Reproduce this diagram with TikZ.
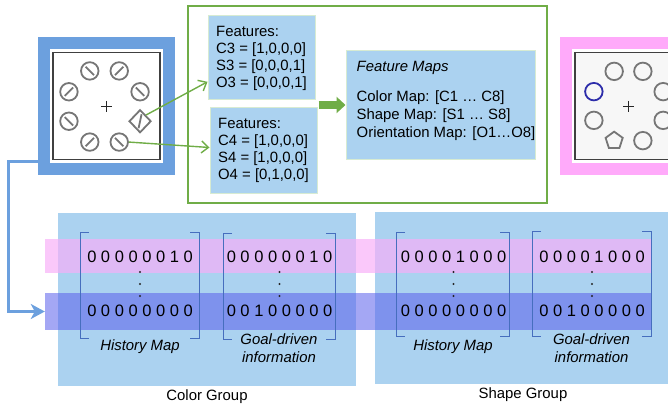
\documentclass[tikz,border=0pt]{standalone}
\usepackage{fontspec}
\setmainfont{Liberation Sans}
\usetikzlibrary{arrows.meta,positioning,shapes.geometric,calc}

\definecolor{frameblue}{RGB}{108,160,222}
\definecolor{framepink}{RGB}{255,170,250}
\definecolor{boxblue}{RGB}{171,210,240}
\definecolor{boxedge}{RGB}{215,235,210}
\definecolor{featgreen}{RGB}{112,173,71}
\definecolor{bandpink}{RGB}{248,174,248}
\definecolor{bandblue}{RGB}{90,95,235}
\definecolor{bracketblue}{RGB}{70,110,190}
\definecolor{itemgray}{RGB}{118,118,118}
\definecolor{itemblue}{RGB}{45,45,170}

\begin{document}
\begin{tikzpicture}[x=1pt, y=-1pt, >=Latex]
        \tikzset{panel/.style={draw, line width=12pt, fill=white, minimum size=125pt, inner sep=0pt},
                 screen/.style={draw=black!75, line width=1.8pt, minimum size=107pt, inner sep=0pt},
                 item/.style={circle, draw=itemgray, line width=1.8pt, minimum size=17.5pt, inner sep=0pt},
                 itemline/.style={draw=itemgray, line width=1.8pt},
                 fixcross/.style={draw=black!85, line width=1pt},
                 featbox/.style={fill=boxblue, draw=boxedge, line width=1pt, align=left, inner sep=0pt, font=\fontsize{14.9pt}{17pt}\selectfont},
                 maptext/.style={anchor=north west, align=left, inner sep=0pt, font=\fontsize{14.9pt}{18pt}\selectfont},
                 featarrow/.style={draw=featgreen, line width=1.4pt, -{Straight Barb[length=7pt, width=12pt]}},
                 groupbox/.style={fill=boxblue, inner sep=0pt},
                 grouplabel/.style={inner sep=3pt, font=\fontsize{14.9pt}{17pt}\selectfont},
                 band/.style={inner sep=0pt, minimum width=607pt},
                 bracket/.style={draw=bracketblue, line width=1pt},
                 bits/.style={inner sep=0pt, font=\fontsize{16.5pt}{12pt}\selectfont},
                 maplabel/.style={align=center, inner sep=0pt, font=\itshape\fontsize{14.9pt}{18pt}\selectfont}}
        \useasboundingbox (0,0) rectangle (668,406);
        \clip (0,0) rectangle (668,406);

        \node[groupbox, minimum width=298pt, minimum height=173pt, label={[grouplabel]below:Color Group}] (colorgrp) at (207,299.5) {};
        \node[groupbox, minimum width=296pt, minimum height=172pt, label={[grouplabel]below:Shape Group}] (shapegrp) at (523,298) {};
        \node[band, fill=bandpink, fill opacity=0.68, minimum height=34pt] (pinkband) at (348.5,256) {};
        \node[band, fill=bandblue, fill opacity=0.55, minimum height=37pt] (blueband) at (348.5,311.5) {};
        \foreach \l/\r/\t/\b in {80/199/232/338, 223/335/233/339, 396/509/232/336, 532/651/231/336}
            \draw[bracket] (\l+9,\t) -- (\l,\t) -- (\l,\b) -- (\l+9,\b) (\r-9,\t) -- (\r,\t) -- (\r,\b) -- (\r-9,\b);
        \foreach \x/\ra/\rb [count=\k] in {140/0 0 0 0 0 0 1 0/0 0 0 0 0 0 0 0, 279.5/0 0 0 0 0 0 1 0/0 0 1 0 0 0 0 0,
                                           453.5/0 0 0 0 1 0 0 0/0 0 0 0 0 0 0 0, 592/0 0 0 0 1 0 0 0/0 0 1 0 0 0 0 0} {
            \node[bits] (rowa\k) at (\x,257) {\ra};
            \node[bits] (rowb\k) at (\x,311) {\rb};
            \foreach \dy in {272,284,296}
                \fill[black!85] (\x,\dy) circle (1.1pt);
        }
        \node[maplabel] (hist1) at (140,347) {History Map};
        \node[maplabel] (goal1) at (279,348) {Goal-driven\\information};
        \node[maplabel] (hist2) at (453,347) {History Map};
        \node[maplabel] (goal2) at (591.5,348) {Goal-driven\\information};

        \node[panel, draw=frameblue] (leftpanel) at (106.5,106) {};
        \node[screen, fill=white] (leftscreen) at (leftpanel.center) {};
        \node[panel, draw=framepink] (rightpanel) at (628.5,106) {};
        \node[screen, fill=black!3] (rightscreen) at (rightpanel.center) {};
        \foreach \p in {leftpanel, rightpanel}
            \draw[fixcross] ($(\p.center)+(-5.5,0.5)$) -- ($(\p.center)+(5.5,0.5)$) ($(\p.center)+(0,-5)$) -- ($(\p.center)+(0,6)$);
        \coordinate (lring) at ($(leftpanel.center)+(-2,0.5)$);
        \foreach \a/\s [count=\i] in {67.5/1, 112.5/-1, 157.5/1, 202.5/-1, 247.5/1, 292.5/-1, 337.5/1} {
            \node[item] (lo\i) at ($(lring)+(\a:38.5)$) {};
            \draw[itemline] ($(lo\i)+(-4.2,-4.2*\s)$) -- ($(lo\i)+(4.2,4.2*\s)$);
        }
        \node[item, diamond, minimum width=22pt, minimum height=23pt] (lodiam) at ($(lring)+(22.5:38.5)$) {};
        \draw[itemline] ($(lodiam)+(1.5,-7)$) -- ($(lodiam)+(-1.5,7)$);
        \foreach \a [count=\i] in {22.5, 67.5, 157.5, 247.5, 292.5, 337.5}
            \node[item] (ro\i) at ($(rightpanel.center)+(\a:37.5)$) {};
        \node[item, draw=itemblue] (rotarget) at ($(rightpanel.center)+(202.5:37.5)$) {};
        \node[item, regular polygon, regular polygon sides=5, minimum size=18pt] (ropent) at ($(rightpanel.center)+(112.5:37.5)$) {};

        \node[draw=featgreen, line width=1.5pt, minimum width=359pt, minimum height=197pt, inner sep=0pt] (featgroup) at (367.5,104.5) {};
        \node[featbox, minimum width=107pt, minimum height=84pt] (feat1) at (261.5,58) {Features:\\C3 = [1,0,0,0]\\S3 = [0,0,0,1]\\O3 = [0,0,0,1]};
        \node[featbox, minimum width=107pt, minimum height=85pt, below=7pt of feat1, xshift=2pt] (feat2) {Features:\\C4 = [1,0,0,0]\\S4 = [1,0,0,0]\\O4 = [0,1,0,0]};
        \node[featbox, minimum width=189pt, minimum height=108pt] (fmaps) at (440.5,105) {};
        \node[maptext] (fmapstext) at ($(fmaps.north west)+(11,11)$) {\textit{Feature Maps}\\[11.5pt]Color Map: [C1 … C8]\\Shape Map: [S1 … S8]\\Orientation Map: [O1…O8]};
        \coordinate (featout) at ($(fmaps.west)+(-27,0)$);

        \draw[featarrow] (lodiam.north east) -- ($(feat1.south west)!0.22!(feat1.north west)$);
        \draw[featarrow] (lo1.east) -- ($(feat2.west)+(0,-3)$);
        \draw[featgreen, line width=8.5pt, -{Triangle[length=9pt, width=16pt]}] (featout) -- (fmaps.west);
        \draw[frameblue, line width=3pt, -{Stealth[length=14pt, width=15pt, inset=4pt]}] ($(leftpanel.south west)+(0,-13)$) -- ++(-30,0) |- (blueband.west);
    \end{tikzpicture}
\end{document}
